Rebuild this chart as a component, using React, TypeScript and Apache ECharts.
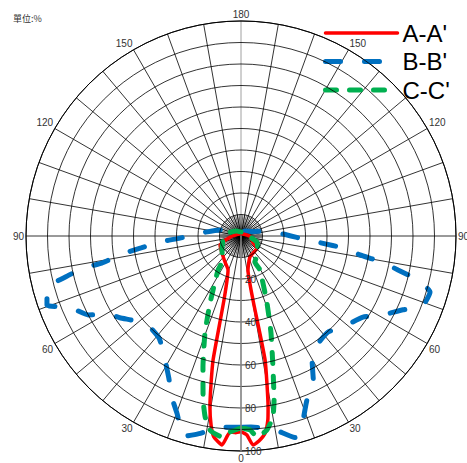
import React, { useEffect, useRef } from "react";
import * as echarts from "echarts";

// Angle tick labels (degrees measured from the bottom, both sides)
const angleLabelStep = 30;
const radiusLabelStep = 20;
const seriesNames = ["A-A'", "B-B'", "C-C'"];
const seriesColors = ["#FF0000", "#0070C0", "#00B050"];

// A-A' (red) left half: angle from nadir (deg) / intensity (%)
const redLeftAngles = [0, 1.5, 3.2, 5.2, 7.7, 9, 10.3, 11.4, 12.7, 14.9, 20.9, 31.6, 48, 66.8, 71.6, 80, 90, 110, 180];
const redLeftValues = [91, 91.5, 91.3, 97.6, 94.3, 89, 80.8, 70.7, 59.1, 30.8, 16.9, 14.2, 11.9, 10.6, 8.8, 6, 4, 2, 1];
// A-A' right half
const redRightAngles = [0, 1.7, 3.3, 5, 7, 8.3, 9, 11, 10.6, 11.6, 23, 53, 57, 63, 80, 90, 110, 180];
const redRightValues = [91, 92.6, 97.4, 95.7, 92.3, 86.5, 80.5, 58.7, 30.3, 16.1, 10.6, 9.3, 7.7, 6.2, 4.5, 4, 2, 1];

// B-B' (blue) left half
const blueLeftAngles = [0, 2.7, 7, 12, 16, 19.7, 23, 27, 32, 38.5, 44.7, 50, 56, 59, 62.7, 67.2, 70.4, 75, 77, 78.5, 79, 81.4, 83.2, 85.8, 88, 94, 106, 114, 140, 180];
const blueLeftValues = [89, 89, 90, 94, 97, 88, 82, 74, 67, 61, 60, 62, 68, 71, 80, 86, 95.8, 93.4, 83, 75, 66, 56, 46.8, 37.8, 28.4, 19.1, 10.2, 4.6, 3, 2];
// B-B' right half
const blueRightAngles = [0, 3, 9.4, 15, 18, 22, 26, 29.8, 34.9, 42.2, 48.3, 56.4, 60.7, 65.5, 68.6, 73.5, 76, 77.8, 79.5, 81, 83.3, 85, 87.2, 92.7, 102.8, 110, 140, 180];
const blueRightValues = [89, 89, 91, 97, 92, 82, 77, 66.5, 61.8, 60.3, 63.6, 68.1, 75.2, 82.8, 90.4, 91.7, 84.8, 74.7, 66.7, 56, 47.8, 37.8, 28.9, 19.6, 10.5, 6, 3, 2];

// C-C' (green) left half
const greenLeftAngles = [0, 3.2, 5.4, 9.1, 11.2, 13, 16.2, 20.4, 24.8, 34, 36.9, 53.6, 77, 103, 140, 180];
const greenLeftValues = [89.3, 91.3, 93.9, 91.4, 85.8, 78.3, 63.4, 48.1, 34.3, 19.1, 14, 11, 8.6, 6.2, 3, 1.9];
// C-C' right half
const greenRightAngles = [0, 2.7, 4.6, 7.6, 10, 11.4, 13.7, 17.2, 21.2, 29.2, 28, 45, 69, 84, 135, 180];
const greenRightValues = [89.3, 90.3, 93.8, 91, 85.5, 77.8, 62.7, 47.2, 33.4, 18.1, 13.7, 11.2, 7.9, 4.2, 2.6, 1.9];

function buildLoop(la: number[], lv: number[], ra: number[], rv: number[]) {
  const left = la.map((a, i) => [lv[i], a]);
  const right = ra.map((a, i) => [rv[i], 360 - a]).reverse();
  return [...left, ...right];
}

const FONT = "'Liberation Sans', Arial, sans-serif";

const redLine = { color: seriesColors[0], width: 3.5, type: "solid", cap: "round" };
const blueLine = { color: seriesColors[1], width: 5, type: [15, 24], cap: "round" };
const greenLine = { color: seriesColors[2], width: 5, type: [11, 13], cap: "round" };

export default function App() {
  const ref = useRef<HTMLDivElement>(null);
  useEffect(() => {
    if (!ref.current) return;
    const chart = echarts.init(ref.current, null, { renderer: "svg" });
    const splitColors: string[] = [];
    for (let i = 0; i < 36; i++) splitColors.push(i === 0 || i === 18 ? "#888888" : "#000000");
    const common = {
      type: "line",
      coordinateSystem: "polar",
      polarIndex: 0,
      symbol: "none",
      smooth: 0.15,
    };
    chart.setOption({
      animation: false,
      backgroundColor: "#ffffff",
      title: {
        text: "單位:%",
        left: 8,
        top: 9,
        textStyle: { fontSize: 9, fontWeight: "normal", color: "#333", fontFamily: "'Noto Sans CJK TC', sans-serif" },
      },
      legend: {
        orient: "vertical",
        left: 318,
        top: 16,
        itemWidth: 72,
        itemHeight: 14,
        itemGap: 4.5,
        itemStyle: { opacity: 0 },
        data: [
          { name: seriesNames[0], itemStyle: { opacity: 0 }, lineStyle: redLine },
          { name: seriesNames[1], itemStyle: { opacity: 0 }, lineStyle: blueLine },
          { name: seriesNames[2], itemStyle: { opacity: 0 }, lineStyle: greenLine },
        ],
        textStyle: { fontSize: 24, lineHeight: 24, color: "#000", fontFamily: FONT },
      },
      polar: [
        { center: [241, 236], radius: 215 },
        { center: [241, 236], radius: 21.5 },
      ],
      angleAxis: [
        {
          polarIndex: 0,
          type: "value",
          min: 0,
          max: 360,
          interval: 10,
          startAngle: -90,
          clockwise: true,
          axisLine: { show: true, lineStyle: { color: "#000", width: 1 } },
          axisTick: { show: false },
          axisLabel: {
            margin: 2,
            fontSize: 10,
            color: "#333",
            fontFamily: FONT,
            formatter: (v: number) =>
              v % angleLabelStep === 0 && v < 360 ? String(v <= 180 ? v : 360 - v) : "",
          },
          splitLine: { show: true, lineStyle: { color: splitColors, width: 0.8 } },
        },
        {
          polarIndex: 1,
          type: "value",
          min: 0,
          max: 360,
          interval: 5,
          startAngle: -90,
          axisLine: { show: false },
          axisTick: { show: false },
          axisLabel: { show: false },
          splitLine: { show: true, lineStyle: { color: "#000", width: 0.6 } },
        },
      ],
      radiusAxis: [
        {
          polarIndex: 0,
          type: "value",
          min: 0,
          max: 100,
          interval: 10,
          z: 5,
          axisLine: { show: true, lineStyle: { color: "#888", width: 1.5 } },
          axisTick: { show: false },
          axisLabel: {
            margin: 4,
            fontSize: 10,
            color: "#333",
            fontFamily: FONT,
            formatter: (v: number) => (v > 0 && v % radiusLabelStep === 0 ? String(v) : ""),
          },
          splitLine: { show: true, lineStyle: { color: "#000", width: 0.8 } },
        },
        { polarIndex: 1, type: "value", min: 0, max: 10, show: false },
      ],
      series: [
        {
          ...common,
          name: seriesNames[1],
          data: buildLoop(blueLeftAngles, blueLeftValues, blueRightAngles, blueRightValues),
          itemStyle: { color: seriesColors[1] },
          lineStyle: blueLine,
        },
        {
          ...common,
          name: seriesNames[0],
          data: buildLoop(redLeftAngles, redLeftValues, redRightAngles, redRightValues),
          itemStyle: { color: seriesColors[0] },
          lineStyle: redLine,
        },
        {
          ...common,
          name: seriesNames[2],
          data: buildLoop(greenLeftAngles, greenLeftValues, greenRightAngles, greenRightValues),
          itemStyle: { color: seriesColors[2] },
          lineStyle: greenLine,
        },
      ],
    });
    return () => chart.dispose();
  }, []);
  return (
    <div
      ref={ref}
      style={{ position: "absolute", left: 0, top: 0, width: 467, height: 463 }}
    />
  );
}
